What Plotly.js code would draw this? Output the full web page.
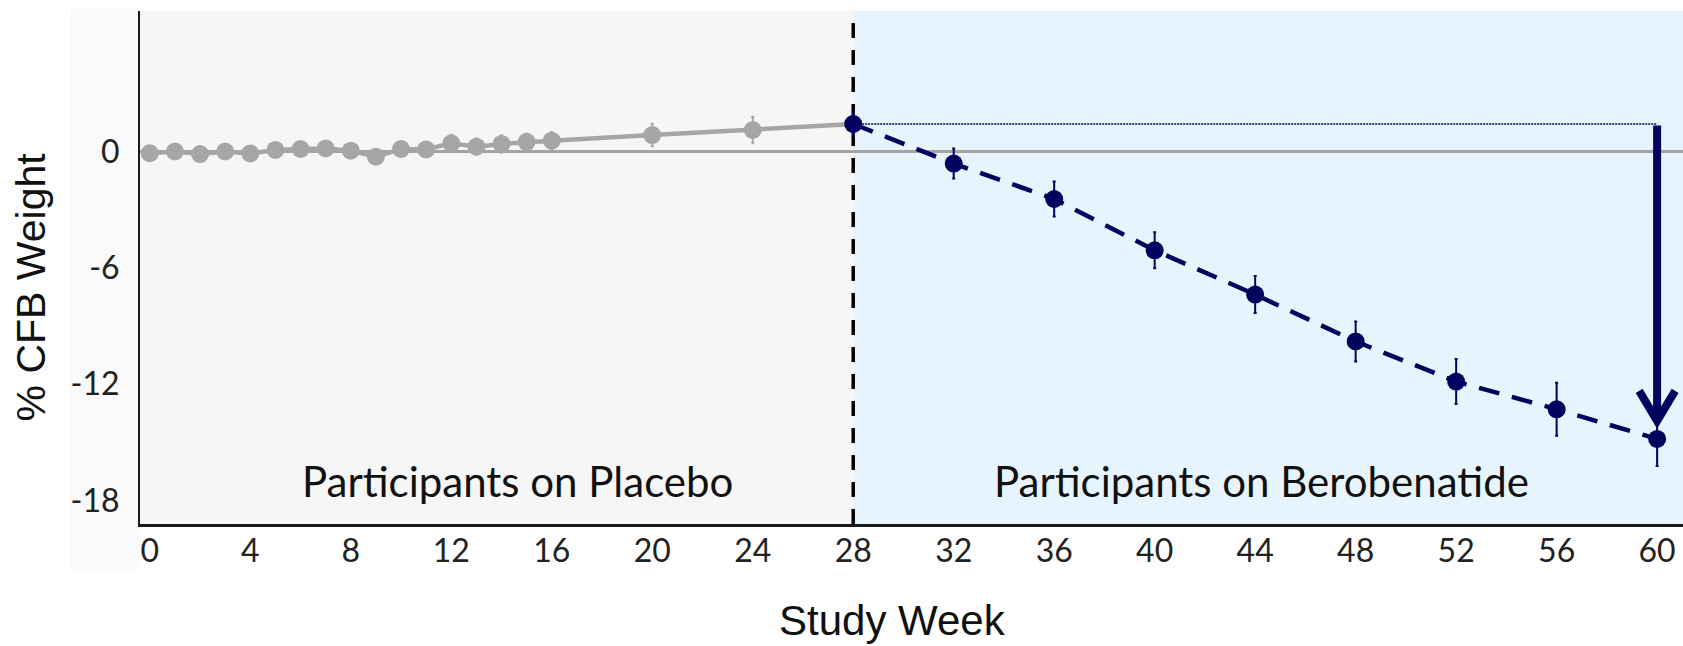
<!DOCTYPE html>
<html>
<head>
<meta charset="utf-8">
<script src="https://cdn.plot.ly/plotly-3.0.1.min.js"></script>
<style>
  html, body { margin: 0; padding: 0; background: #ffffff; }
  #chart { width: 1683px; height: 646px; }
</style>
</head>
<body>
<div id="chart"></div>
<script>
// ---- data ----
const placeboWeeks = [0, 1, 2, 3, 4, 5, 6, 7, 8, 9, 10, 11, 12, 13, 14, 15, 16, 20, 24, 28];
const placeboValues = [-0.09, 0.0, -0.13, 0.0, -0.1, 0.08, 0.13, 0.16, 0.04, -0.27, 0.13, 0.11, 0.42, 0.25, 0.39, 0.5, 0.56, 0.85, 1.11, 1.42];
const placeboErrors = [0.25, 0.25, 0.25, 0.25, 0.25, 0.25, 0.25, 0.25, 0.25, 0.25, 0.25, 0.25, 0.45, 0.42, 0.45, 0.42, 0.45, 0.58, 0.68, 0.62];

const drugWeeks = [28, 32, 36, 40, 44, 48, 52, 56, 60];
const drugValues = [1.42, -0.62, -2.45, -5.1, -7.38, -9.8, -11.87, -13.3, -14.83];
const drugErrors = [0.62, 0.77, 0.9, 0.93, 0.95, 1.03, 1.16, 1.37, 1.4];

const xTickVals = [0, 4, 8, 12, 16, 20, 24, 28, 32, 36, 40, 44, 48, 52, 56, 60];
const yTickVals = [0, -6, -12, -18];
const switchWeek = 28;
const labelPlacebo = 'Participants on Placebo';
const labelDrug = 'Participants on Berobenatide';
const xTitle = 'Study Week';
const yTitle = '% CFB Weight';

// ---- styling ----
const NAVY = '#02025e';
const GREY = '#a6a6a6';
const xRange = [-0.39, 61.03];
const yRange = [-19.22, 7.25];

const baseline = drugValues[0];
const lastWeek = drugWeeks[drugWeeks.length - 1];
const lastValue = drugValues[drugValues.length - 1];

const traces = [
  {
    type: 'scatter', mode: 'lines+markers',
    x: placeboWeeks, y: placeboValues,
    line: { color: GREY, width: 4.5 },
    marker: { color: GREY, size: 18 },
    error_y: { type: 'data', array: placeboErrors, visible: true, color: GREY, thickness: 2, width: 1.5 },
    hoverinfo: 'x+y', showlegend: false
  },
  {
    type: 'scatter', mode: 'lines+markers',
    x: drugWeeks, y: drugValues,
    line: { color: NAVY, width: 4.5, dash: '21px,13px' },
    marker: { color: NAVY, size: 18 },
    error_y: { type: 'data', array: drugErrors, visible: true, color: NAVY, thickness: 2, width: 1.5 },
    hoverinfo: 'x+y', showlegend: false
  }
];

const layout = {
  width: 1683, height: 646,
  margin: { l: 140, r: 0, t: 11, b: 122, pad: 0 },
  paper_bgcolor: '#ffffff',
  plot_bgcolor: '#e8f4fd',
  showlegend: false,
  font: { family: 'Lato, sans-serif', color: '#1f1f1f' },
  xaxis: {
    range: xRange, tickvals: xTickVals, ticktext: xTickVals.map(String),
    showgrid: false, zeroline: false, showline: true,
    linecolor: '#1a1a1a', linewidth: 2.5, ticks: '',
    ticklabelstandoff: -3,
    tickfont: { family: 'Lato, sans-serif', size: 32, color: '#222222' }
  },
  yaxis: {
    range: yRange, tickvals: yTickVals, ticktext: yTickVals.map(String),
    showgrid: false, zeroline: true, zerolinecolor: '#a3a3a3', zerolinewidth: 2.5,
    showline: true, linecolor: '#1a1a1a', linewidth: 2, ticks: '',
    ticklabelstandoff: 12,
    tickfont: { family: 'Lato, sans-serif', size: 32, color: '#222222' }
  },
  shapes: [
    { type: 'rect', xref: 'paper', yref: 'paper', x0: -0.045, x1: 0, y0: -0.09, y1: 1.005,
      fillcolor: '#fafafa', line: { width: 0 }, layer: 'below' },
    { type: 'rect', xref: 'x', yref: 'paper', x0: xRange[0] - 1, x1: switchWeek, y0: 0, y1: 1,
      fillcolor: '#f6f6f6', line: { width: 0 }, layer: 'below' },
    { type: 'line', xref: 'x', yref: 'paper', x0: switchWeek, x1: switchWeek, y0: 0, y1: 1,
      line: { color: '#000000', width: 3.5, dash: '15px,12px' }, layer: 'between' },
    { type: 'line', xref: 'x', yref: 'y', x0: switchWeek, x1: lastWeek, y0: baseline, y1: baseline,
      line: { color: NAVY, width: 1.5, dash: '2px,1px' }, layer: 'between' },
    { type: 'path', xref: 'x', yref: 'y', xsizemode: 'pixel', ysizemode: 'pixel',
      xanchor: lastWeek, yanchor: lastValue,
      path: 'M -18,48 L 0,18 L 18,48',
      line: { color: NAVY, width: 8 }, fillcolor: 'rgba(0,0,0,0)', layer: 'above' }
  ],
  annotations: [
    { x: lastWeek, y: lastValue, xref: 'x', yref: 'y', ax: lastWeek, ay: baseline, axref: 'x', ayref: 'y',
      text: '', showarrow: true, arrowhead: 0, arrowwidth: 8, arrowcolor: NAVY, standoff: 22 },
    { x: 14.63, y: -17.0, xref: 'x', yref: 'y', text: labelPlacebo, showarrow: false,
      xanchor: 'center', yanchor: 'middle', font: { family: 'Lato, sans-serif', size: 42, color: '#111111' } },
    { x: 44.24, y: -17.0, xref: 'x', yref: 'y', text: labelDrug, showarrow: false,
      xanchor: 'center', yanchor: 'middle', font: { family: 'Lato, sans-serif', size: 42, color: '#111111' } },
    { x: 0.488, y: -0.188, xref: 'paper', yref: 'paper', text: xTitle,
      showarrow: false, xanchor: 'center', yanchor: 'middle',
      font: { family: '"Liberation Sans", Arial, sans-serif', size: 42, color: '#111111' } },
    { x: -0.0705, y: 0.4615, xref: 'paper', yref: 'paper', text: yTitle, textangle: -90,
      showarrow: false, xanchor: 'center', yanchor: 'middle',
      font: { family: '"Liberation Sans", Arial, sans-serif', size: 41, color: '#111111' } }
  ]
};

Plotly.newPlot('chart', traces, layout, { displayModeBar: false, staticPlot: true });
</script>
</body>
</html>
